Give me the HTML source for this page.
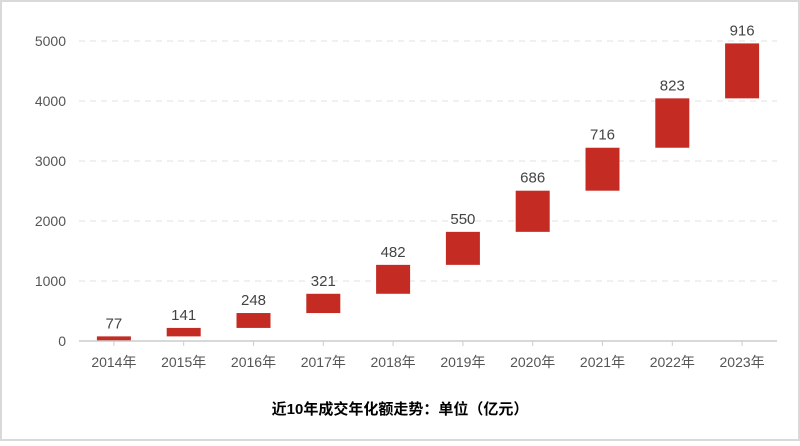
<!DOCTYPE html>
<html><head><meta charset="utf-8"><style>
body{margin:0;background:#fff;}
svg text{font-family:"Liberation Sans","Noto Sans CJK SC",sans-serif;}
</style></head><body>
<svg width="800" height="441">
<rect x="1" y="1" width="798" height="439" fill="#fff" stroke="#d9d9d9" stroke-width="2"/>
<g id="grid"></g><g id="bars"></g><g id="axes"></g>
<text x="400" y="414" text-anchor="middle" font-size="15" font-weight="bold" fill="#000">近10年成交年化额走势：单位（亿元）</text>
</svg>
<script>
const categories=["2014年","2015年","2016年","2017年","2018年","2019年","2020年","2021年","2022年","2023年"];
const values=[77,141,248,321,482,550,686,716,823,916];
const yTicks=[0,1000,2000,3000,4000,5000];
const NS="http://www.w3.org/2000/svg";
const x0=79,step=69.8,y0=341,yMax=5000,yPix=300,barW=34;
function yS(v){return y0-v/yMax*yPix;}
function xC(i){return x0+step*(i+0.5);}
function mk(t,a,p,txt){const e=document.createElementNS(NS,t);for(const k in a)e.setAttribute(k,a[k]);if(txt!=null)e.textContent=txt;p.appendChild(e);return e;}
const grid=document.getElementById('grid'),bars=document.getElementById('bars'),axes=document.getElementById('axes');
yTicks.forEach(v=>{
  if(v>0){const l=mk('line',{x1:x0,x2:x0+step*categories.length,y1:yS(v),y2:yS(v),stroke:'#e0e0e0','stroke-dasharray':'6,5'},grid);
  
  }
  const t=mk('text',{x:66,y:yS(v)+5,'text-anchor':'end','font-size':14,fill:'#555'},axes,String(v));
  
  
});
const ax=mk('line',{x1:x0,x2:x0+step*categories.length,y1:y0,y2:y0,stroke:'#ccc','stroke-width':1.5},axes);


let cum=0;
categories.forEach((c,i)=>{
  const base=cum;cum+=values[i];
  const r=mk('rect',{x:xC(i)-barW/2,y:yS(cum),width:barW,height:yS(base)-yS(cum),fill:'#c42b23'},bars);
  
  
  const lb=mk('text',{x:xC(i),y:yS(cum)-8,'text-anchor':'middle','font-size':15,fill:'#444'},bars,String(values[i]));
  
  
  const tk=mk('line',{x1:xC(i),x2:xC(i),y1:y0,y2:y0+5,stroke:'#ccc'},axes);
  
  
  const xl=mk('text',{x:xC(i),y:y0+26,'text-anchor':'middle','font-size':14,fill:'#555'},axes,c);
  
  
});
</script>
</body></html>
